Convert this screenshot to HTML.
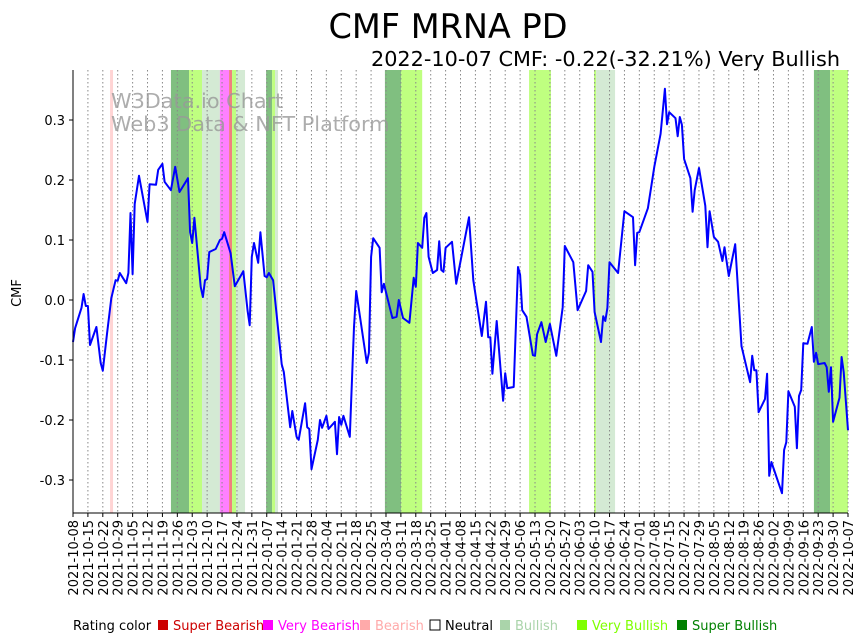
<!DOCTYPE html>
<html><head><meta charset="utf-8"><style>
html,body{margin:0;padding:0;background:#fff;}
svg{display:block;font-family:"DejaVu Sans","Liberation Sans",sans-serif;}
</style></head><body>
<svg id="chart" width="864" height="641" viewBox="0 0 864 641" xmlns="http://www.w3.org/2000/svg">
<text x="448" y="38" font-size="33.5" text-anchor="middle" fill="#000">CMF MRNA PD</text>
<text x="840" y="66" font-size="20.8" text-anchor="end" fill="#000">2022-10-07 CMF: -0.22(-32.21%) Very Bullish</text>
<g id="bands"></g>
<g id="grid"></g>
<g fill="#999" opacity="0.8" font-size="20.8">
<text x="111" y="108">W3Data.io Chart</text>
<text x="111" y="131">Web3 Data &amp; NFT Platform</text>
</g>
<path id="line" fill="none" stroke="#0000ff" stroke-width="2" stroke-linejoin="round"/>
<g id="yaxis"></g>
<g id="xaxis"></g>
<text font-size="13" text-anchor="middle" transform="translate(21,293) rotate(-90)">CMF</text>
<g id="legend" font-size="13"></g>
</svg>
<script>
const tickLabels=["2021-10-08","2021-10-15","2021-10-22","2021-10-29","2021-11-05","2021-11-12","2021-11-19","2021-11-26","2021-12-03","2021-12-10","2021-12-17","2021-12-24","2021-12-31","2022-01-07","2022-01-14","2022-01-21","2022-01-28","2022-02-04","2022-02-11","2022-02-18","2022-02-25","2022-03-04","2022-03-11","2022-03-18","2022-03-25","2022-04-01","2022-04-08","2022-04-15","2022-04-22","2022-04-29","2022-05-06","2022-05-13","2022-05-20","2022-05-27","2022-06-03","2022-06-10","2022-06-17","2022-06-24","2022-07-01","2022-07-08","2022-07-15","2022-07-22","2022-07-29","2022-08-05","2022-08-12","2022-08-19","2022-08-26","2022-09-02","2022-09-09","2022-09-16","2022-09-23","2022-09-30","2022-10-07"];
const yTicks=[-0.3,-0.2,-0.1,0.0,0.1,0.2,0.3];
const days=[0,1,4,5,6,7,8,11,13,14,16,18,20,21,22,25,26,27,28,29,31,35,36,39,40,42,43,46,48,50,54,55,56,57,60,61,62,63,64,67,69,70,71,74,76,80,82,83,84,85,87,88,90,91,92,94,98,99,102,103,105,106,109,110,111,112,115,116,117,119,120,123,124,125,126,127,130,132,133,138,139,140,141,144,145,146,150,152,153,155,158,160,161,162,164,165,166,167,169,171,172,173,174,175,178,180,186,188,192,194,195,196,197,199,202,203,204,207,209,210,211,213,216,217,218,220,222,224,227,230,231,235,237,241,242,244,245,248,249,250,251,252,256,259,263,264,265,266,270,273,276,278,279,280,283,284,285,286,287,290,291,292,294,297,298,299,301,303,305,306,308,311,314,318,319,320,321,322,325,326,327,328,333,334,335,336,339,340,341,342,343,345,347,348,349,350,353,354,355,356,357,360,361,362,364];
const cmf=[-0.07,-0.047,-0.013,0.01,-0.01,-0.01,-0.075,-0.045,-0.105,-0.118,-0.055,0.003,0.033,0.032,0.045,0.028,0.045,0.145,0.043,0.16,0.207,0.13,0.193,0.192,0.217,0.227,0.197,0.183,0.222,0.18,0.203,0.113,0.095,0.137,0.022,0.005,0.033,0.035,0.08,0.085,0.1,0.102,0.113,0.078,0.023,0.048,-0.018,-0.042,0.072,0.095,0.062,0.113,0.04,0.038,0.045,0.033,-0.107,-0.12,-0.212,-0.185,-0.228,-0.233,-0.172,-0.212,-0.215,-0.282,-0.233,-0.2,-0.213,-0.193,-0.215,-0.203,-0.257,-0.195,-0.208,-0.193,-0.228,-0.045,0.015,-0.105,-0.088,0.072,0.103,0.087,0.013,0.027,-0.03,-0.028,0.0,-0.03,-0.038,0.037,0.022,0.095,0.087,0.137,0.145,0.072,0.045,0.05,0.098,0.05,0.047,0.087,0.097,0.027,0.138,0.033,-0.06,-0.003,-0.062,-0.062,-0.123,-0.035,-0.168,-0.122,-0.147,-0.145,0.055,0.042,-0.017,-0.028,-0.092,-0.093,-0.057,-0.037,-0.07,-0.04,-0.093,-0.012,0.09,0.063,-0.017,0.015,0.058,0.047,-0.02,-0.07,-0.027,-0.035,-0.013,0.063,0.045,0.148,0.138,0.058,0.112,0.113,0.153,0.222,0.277,0.352,0.293,0.313,0.303,0.273,0.305,0.292,0.235,0.203,0.147,0.183,0.22,0.157,0.088,0.148,0.105,0.097,0.065,0.088,0.04,0.093,-0.077,-0.137,-0.093,-0.117,-0.117,-0.187,-0.165,-0.123,-0.293,-0.27,-0.322,-0.25,-0.237,-0.152,-0.178,-0.247,-0.16,-0.15,-0.072,-0.073,-0.045,-0.103,-0.088,-0.107,-0.105,-0.112,-0.153,-0.112,-0.203,-0.163,-0.095,-0.12,-0.217];
const bandStart=[17.4,46.0,54.5,60.6,69.0,73.3,74.7,76.6,90.7,93.5,94.9,146.5,154.1,214.2,244.7,245.7,348.0,355.6,357.0];
const bandEnd=[18.8,54.5,60.6,69.0,73.3,74.7,76.6,80.8,93.5,94.9,96.3,154.1,164.0,224.5,245.7,254.6,355.6,357.0,364];
const bandRating=["bearish","super-bullish","very-bullish","bullish","very-bearish","super-bearish-mix","very-bullish","bullish","super-bullish","very-bullish","bullish","super-bullish","very-bullish","very-bullish","very-bullish","bullish","super-bullish","very-bullish","very-bullish"];
const legendLabels=["Super Bearish","Very Bearish","Bearish","Neutral","Bullish","Very Bullish","Super Bullish"];
const legendColors=["#cc0000","#ff00ff","#ffaaaa","#ffffff","#aad4aa","#7fff00","#008000"];
const legendTextColors=["#cc0000","#ff00ff","#ffaaaa","#000000","#aad4aa","#7fff00","#008000"];
const legendX=[158,263,360,430,500,577,677];

const NS="http://www.w3.org/2000/svg";
const L=73,R=848,T=70,B=513;
const x=d=>L+d*(R-L)/364;
const y=v=>300-v*600;
const bandColor={"bearish":"#ffd4d4","super-bullish":"#80bf80","very-bullish":"#bfff80","bullish":"#d4ead4","very-bearish":"#ff80ff","super-bearish-mix":"#f08080"};
function mk(tag,attrs,parent){const e=document.createElementNS(NS,tag);for(const k in attrs)e.setAttribute(k,attrs[k]);parent.appendChild(e);return e;}

const bands=document.getElementById('bands');
bandStart.forEach((s,i)=>{
  const r=mk('rect',{x:x(s),y:T,width:x(bandEnd[i])-x(s),height:B-T,fill:bandColor[bandRating[i]]},bands);
  
  
});
const grid=document.getElementById('grid');
const xa=document.getElementById('xaxis');
tickLabels.forEach((lab,i)=>{
  const xx=x(i*7);
  const g=mk('line',{x1:xx,x2:xx,y1:T,y2:B,stroke:'#888','stroke-width':1,'stroke-dasharray':'1.5,2.5'},grid);
  
  
  const t=mk('line',{x1:xx,x2:xx,y1:B,y2:B+4,stroke:'#000'},xa);
  
  
  const tx=mk('text',{'font-size':13,'text-anchor':'end',transform:`translate(${xx+5},${B+7}) rotate(-90)`},xa);
  tx.textContent=lab;
  
  
});
mk('line',{x1:L,x2:R,y1:B,y2:B,stroke:'#000'},xa);
const ya=document.getElementById('yaxis');
mk('line',{x1:L,x2:L,y1:T,y2:B,stroke:'#000'},ya);
yTicks.forEach(v=>{
  const t=mk('line',{x1:L-4,x2:L,y1:y(v),y2:y(v),stroke:'#000'},ya);
  
  
  const tx=mk('text',{x:L-8,y:y(v)+5,'font-size':13,'text-anchor':'end'},ya);
  tx.textContent=v.toFixed(1);
  
  
});
const n=Math.min(days.length,cmf.length);
let d='';
for(let i=0;i<n;i++){d+=(i?'L':'M')+x(days[i]).toFixed(1)+','+y(cmf[i]).toFixed(1);}
document.getElementById('line').setAttribute('d',d);
const lg=document.getElementById('legend');
const lt=mk('text',{x:73,y:630},lg);lt.textContent='Rating color';


legendLabels.forEach((lab,i)=>{
  const sq=mk('rect',{x:legendX[i],y:620,width:10,height:10,fill:legendColors[i],stroke:i===3?'#000':'none'},lg);
  
  
  const t=mk('text',{x:legendX[i]+15,y:630,fill:legendTextColors[i]},lg);
  t.textContent=lab;
  
  
});
</script>
</body></html>
